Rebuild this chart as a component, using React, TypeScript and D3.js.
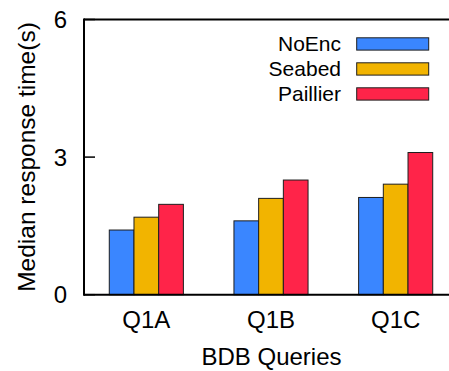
import React from "react";
import * as d3 from "d3";

// Query groups along the x axis
const categories = ["Q1A", "Q1B", "Q1C"];
// Systems compared within each group
const seriesNames = ["NoEnc", "Seabed", "Paillier"];
const seriesColors = ["#3a86ff", "#f2b400", "#ff2449"];
// Median response time in seconds, one array per system
const noEncValues = [1.41, 1.61, 2.12];
const seabedValues = [1.69, 2.1, 2.41];
const paillierValues = [1.97, 2.5, 3.1];
const yTicks = [0, 3, 6];

const seriesValues = [noEncValues, seabedValues, paillierValues];

const W = 449;
const H = 371;
const left = 84;
const top = 19.5;
const bottom = 294.7;
const right = 458; // the plot area runs a little past the canvas edge
const font = "'Liberation Sans', Arial, Helvetica, sans-serif";

export default function App() {
  const y = d3.scaleLinear().domain([0, 6]).range([bottom, top]);
  const x = d3.scaleBand<string>().domain(categories).range([left, right]).paddingInner(0).paddingOuter(0);
  const groupWidth = 74.1;
  const inner = d3
    .scaleBand<string>()
    .domain(seriesNames)
    .range([-groupWidth / 2, groupWidth / 2])
    .padding(0);

  return (
    <svg
      width={W}
      height={H}
      style={{ position: "absolute", left: 0, top: 0, background: "#fff" }}
      fontFamily={font}
    >
      <rect x={0} y={0} width={W} height={H} fill="#fff" />
      {/* bars */}
      {categories.map((c, ci) => {
        const cx = (x(c) ?? 0) + x.bandwidth() / 2;
        return seriesNames.map((s, si) => {
          const v = seriesValues[si][ci];
          return (
            <rect
              key={c + s}
              x={cx + (inner(s) ?? 0)}
              y={y(v)}
              width={inner.bandwidth()}
              height={y(0) - y(v)}
              fill={seriesColors[si]}
              stroke="#1e1e1e"
              strokeWidth={1}
            />
          );
        });
      })}
      {/* frame */}
      <line x1={left} x2={W} y1={top} y2={top} stroke="#000" strokeWidth={2} />
      <line x1={left} x2={W} y1={bottom} y2={bottom} stroke="#000" strokeWidth={2} />
      <line x1={left} x2={left} y1={top - 1} y2={bottom + 1} stroke="#000" strokeWidth={2} />
      {/* y ticks */}
      {yTicks.map((t) => (
        <g key={t}>
          <line x1={left} x2={left + 11} y1={y(t)} y2={y(t)} stroke="#000" strokeWidth={1.5} />
          <text x={67} y={y(t)} dy="0.36em" textAnchor="end" fontSize={24} fill="#000">
            {t}
          </text>
        </g>
      ))}
      {/* x labels */}
      {categories.map((c) => (
        <text
          key={c}
          x={(x(c) ?? 0) + x.bandwidth() / 2}
          y={328.3}
          textAnchor="middle"
          fontSize={24}
          fill="#000"
        >
          {c}
        </text>
      ))}
      {/* axis titles */}
      <text x={271.5} y={365} textAnchor="middle" fontSize={24} fill="#000">
        BDB Queries
      </text>
      <text
        transform={`translate(35,157) rotate(-90)`}
        textAnchor="middle"
        fontSize={24.5}
        fill="#000"
      >
        Median response time(s)
      </text>
      {/* legend */}
      {seriesNames.map((s, i) => {
        const cy = 43.8 + i * 25;
        return (
          <g key={s}>
            <text x={341} y={cy} dy="0.36em" textAnchor="end" fontSize={21} fill="#000">
              {s}
            </text>
            <rect
              x={356.7}
              y={cy - 6}
              width={72}
              height={12.3}
              fill={seriesColors[i]}
              stroke="#1e1e1e"
              strokeWidth={1}
            />
          </g>
        );
      })}
    </svg>
  );
}
